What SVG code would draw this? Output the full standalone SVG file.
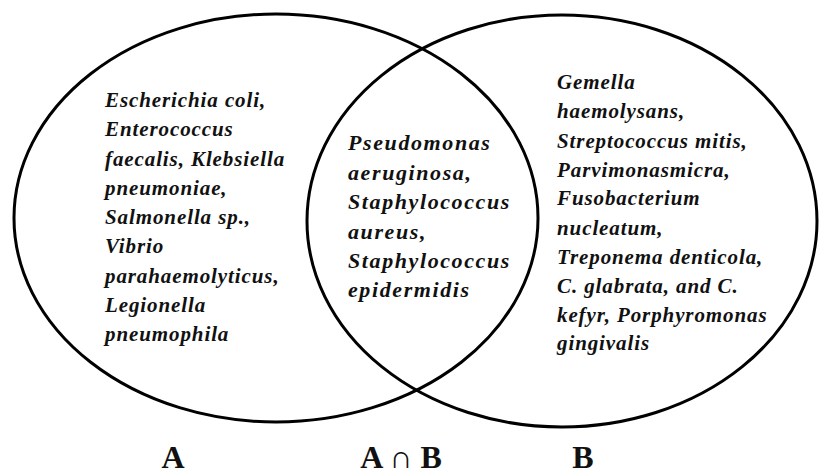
<svg xmlns="http://www.w3.org/2000/svg" width="819" height="474" viewBox="0 0 819 474">
<style>
.c{fill:none;stroke:#000;stroke-width:3}
.t{font-family:"Liberation Serif","Times New Roman",serif;font-size:21px;font-weight:bold;font-style:italic;fill:#111;letter-spacing:0.9px}
.m{font-size:22px;letter-spacing:1.6px}
.l{font-family:"Liberation Serif","Times New Roman",serif;font-size:32px;font-weight:bold;fill:#111;text-anchor:middle}
</style>
<rect width="819" height="474" fill="#fff"/>
<g id="setA">
<ellipse class="c" cx="276" cy="218" rx="262" ry="204"/>
<text class="t" x="105" y="107">Escherichia coli,</text>
<text class="t" x="105" y="136">Enterococcus</text>
<text class="t" x="105" y="166">faecalis, Klebsiella</text>
<text class="t" x="105" y="195">pneumoniae,</text>
<text class="t" x="105" y="224">Salmonella sp.,</text>
<text class="t" x="105" y="253">Vibrio</text>
<text class="t" x="105" y="283">parahaemolyticus,</text>
<text class="t" x="105" y="312">Legionella</text>
<text class="t" x="105" y="341">pneumophila</text>
</g>
<g id="setB">
<ellipse class="c" cx="562" cy="221" rx="255" ry="206"/>
<text class="t" x="557" y="89">Gemella</text>
<text class="t" x="557" y="118">haemolysans,</text>
<text class="t" x="557" y="148">Streptococcus mitis,</text>
<text class="t" x="557" y="177">Parvimonasmicra,</text>
<text class="t" x="557" y="205">Fusobacterium</text>
<text class="t" x="557" y="235">nucleatum,</text>
<text class="t" x="557" y="264">Treponema denticola,</text>
<text class="t" x="557" y="293">C. glabrata, and C.</text>
<text class="t" x="557" y="322">kefyr, Porphyromonas</text>
<text class="t" x="557" y="350">gingivalis</text>
</g>
<g id="intersection">
<text class="t m" x="348" y="150">Pseudomonas</text>
<text class="t m" x="348" y="180">aeruginosa,</text>
<text class="t m" x="348" y="209">Staphylococcus</text>
<text class="t m" x="348" y="239">aureus,</text>
<text class="t m" x="348" y="268">Staphylococcus</text>
<text class="t m" x="348" y="297">epidermidis</text>
</g>
<g id="labels">
<text class="l" x="173" y="468">A</text>
<text class="l" x="401" y="468">A ∩ B</text>
<text class="l" x="583" y="468">B</text>
</g>
</svg>
